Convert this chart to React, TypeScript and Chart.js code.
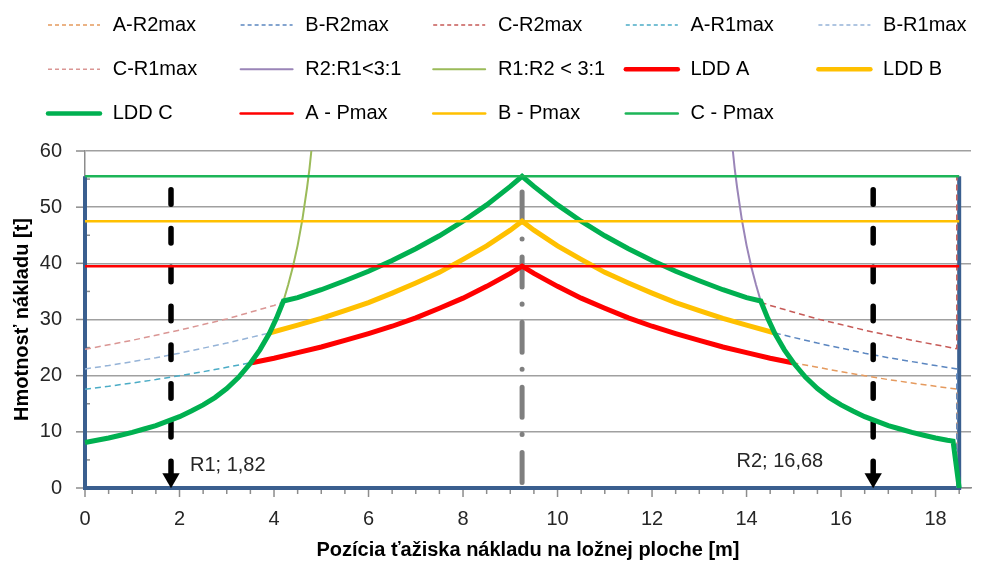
import React, { useEffect, useRef } from 'react';
import { Chart, registerables } from 'chart.js';

Chart.register(...registerables);

const FONT = '"Liberation Sans", Arial, sans-serif';

// ---------- axis / text ----------
const xTitle = 'Pozícia ťažiska nákladu na ložnej ploche [m]';
const yTitle = 'Hmotnosť nákladu [t]';
const xMajorTicks = [0, 2, 4, 6, 8, 10, 12, 14, 16, 18];
const yMajorTicks = [0, 10, 20, 30, 40, 50, 60];
const annoText = ['R1; 1,82', 'R2; 16,68'];

// ---------- series data ----------
// dashed R2max curves (right side)
const aR2X = [14.97, 15.5, 16, 16.5, 17, 17.5, 18, 18.45, 18.45];
const aR2Y = [22.3, 21.5, 20.7, 20.0, 19.3, 18.7, 18.1, 17.6, 0];
const bR2X = [14.6, 15, 15.5, 16, 16.5, 17, 17.5, 18, 18.45, 18.45];
const bR2Y = [27.6, 26.8, 25.8, 24.9, 24.0, 23.2, 22.5, 21.8, 21.2, 0];
const cR2X = [14.3, 14.5, 15, 15.5, 16, 16.5, 17, 17.5, 18, 18.45, 18.45];
const cR2Y = [33.1, 32.5, 31.3, 30.1, 29.1, 28.1, 27.2, 26.3, 25.5, 24.8, 55.5];

// dashed R1max curves (left side)
const aR1X = [0, 0.5, 1, 1.5, 2, 2.5, 3, 3.5];
const aR1Y = [17.6, 18.1, 18.7, 19.3, 20.0, 20.7, 21.5, 22.3];
const bR1X = [0, 0.5, 1, 1.5, 2, 2.5, 3, 3.5, 3.9];
const bR1Y = [21.2, 21.8, 22.5, 23.2, 24.0, 24.9, 25.8, 26.8, 27.6];
const cR1X = [0, 0.5, 1, 1.5, 2, 2.5, 3, 3.5, 4, 4.2];
const cR1Y = [24.7, 25.5, 26.3, 27.2, 28.1, 29.1, 30.1, 31.3, 32.5, 33.1];

// axle load ratio limits
const r2r1X = [18.37, 18.25, 18, 17.75, 17.5, 17.25, 17, 16.75, 16.5, 16.25, 16, 15.75, 15.5, 15.25, 15, 14.8, 14.6, 14.45, 14.3, 14.2, 14.1, 14.0, 13.9, 13.8, 13.75, 13.71];
const r2r1Y = [8.35, 8.5, 8.9, 9.4, 9.9, 10.5, 11.1, 11.9, 12.7, 13.7, 14.8, 16.1, 17.7, 19.7, 22.2, 24.6, 27.5, 30.2, 33.3, 36.2, 39.4, 43.2, 47.8, 53.5, 56.8, 60];
const r1r2X = [0, 0.25, 0.5, 0.75, 1, 1.25, 1.5, 1.75, 2, 2.25, 2.5, 2.75, 3, 3.25, 3.5, 3.7, 3.9, 4.05, 4.2, 4.3, 4.4, 4.5, 4.6, 4.7, 4.75, 4.79];
const r1r2Y = [8.1, 8.5, 8.9, 9.4, 9.9, 10.5, 11.1, 11.9, 12.7, 13.7, 14.8, 16.1, 17.7, 19.7, 22.2, 24.6, 27.5, 30.2, 33.3, 36.2, 39.4, 43.2, 47.8, 53.5, 56.8, 60];

// load distribution diagrams
const ldaX = [3.53, 4, 4.5, 5, 5.5, 6, 6.5, 7, 7.5, 8, 8.5, 9, 9.25, 9.5, 10, 10.5, 11, 11.5, 12, 12.5, 13, 13.5, 14, 14.5, 14.97];
const ldaY = [22.3, 23.1, 24.1, 25.1, 26.3, 27.5, 28.8, 30.3, 32.0, 33.8, 35.9, 38.2, 39.5, 38.2, 35.9, 33.8, 32.0, 30.3, 28.8, 27.5, 26.3, 25.1, 24.1, 23.1, 22.3];
const ldbX = [3.9, 4.5, 5, 5.5, 6, 6.5, 7, 7.5, 8, 8.5, 9, 9.25, 9.5, 10, 10.5, 11, 11.5, 12, 12.5, 13, 13.5, 14, 14.6];
const ldbY = [27.6, 29.0, 30.2, 31.6, 33.0, 34.7, 36.5, 38.4, 40.7, 43.1, 45.9, 47.5, 45.9, 43.1, 40.7, 38.4, 36.5, 34.7, 33.0, 31.6, 30.2, 29.0, 27.6];
const ldcX = [0, 0.25, 0.5, 0.75, 1, 1.25, 1.5, 1.75, 2, 2.25, 2.5, 2.75, 3, 3.25, 3.5, 3.7, 3.9, 4.05, 4.2, 4.5, 5, 5.5, 6, 6.5, 7, 7.5, 8, 8.5, 9, 9.25, 9.5, 10, 10.5, 11, 11.5, 12, 12.5, 13, 13.5, 14, 14.3, 14.45, 14.6, 14.8, 15, 15.25, 15.5, 15.75, 16, 16.25, 16.5, 16.75, 17, 17.25, 17.5, 17.75, 18, 18.25, 18.37, 18.5];
const ldcY = [8.1, 8.5, 8.9, 9.4, 9.9, 10.5, 11.1, 11.9, 12.7, 13.7, 14.8, 16.1, 17.7, 19.7, 22.2, 24.6, 27.5, 30.2, 33.3, 33.9, 35.3, 36.9, 38.6, 40.5, 42.6, 44.9, 47.5, 50.4, 53.7, 55.5, 53.7, 50.4, 47.5, 44.9, 42.6, 40.5, 38.6, 36.9, 35.3, 33.9, 33.3, 30.2, 27.5, 24.6, 22.2, 19.7, 17.7, 16.1, 14.8, 13.7, 12.7, 11.9, 11.1, 10.5, 9.9, 9.4, 8.9, 8.5, 8.35, 0];

// max payload lines
const pmaxX = [0, 18.5];
const pmaxA = [39.5, 39.5];
const pmaxB = [47.5, 47.5];
const pmaxC = [55.5, 55.5];

// loading surface outline
const frameX = [0, 0, 18.5, 18.5];
const frameY = [55.5, 0, 0, 55.5];

// centre of the loading surface
const centreX = [9.25, 9.25];
const centreY = [52.7, 0];

// axle positions (arrows)
const axleX = [1.82, 16.68];
const arrowTopY = [53.1, 53.1];
const arrowEndY = [2.5, 2.5];
const arrowHeadY = [1.75, 1.75];

const pts = (xs: number[], ys: number[]) => xs.map((x, i) => ({ x, y: ys[i] }));

const legendNames = [
  'A-R2max', 'B-R2max', 'C-R2max', 'A-R1max', 'B-R1max',
  'C-R1max', 'R2:R1<3:1', 'R1:R2 < 3:1', 'LDD A', 'LDD B',
  'LDD C', 'A - Pmax', 'B - Pmax', 'C - Pmax',
];

export default function App() {
  const ref = useRef<HTMLCanvasElement>(null);

  useEffect(() => {
    document.body.style.margin = '0';
    const base = { showLine: true, pointRadius: 0, pointHoverRadius: 0, fill: false, tension: 0, clip: false as any };
    const dashed = (label: string, color: string, xs: number[], ys: number[]) => ({
      ...base, label, data: pts(xs, ys), borderColor: color, borderWidth: 1.5, borderDash: [6, 4], legendItem: true,
    });
    const solid = (label: string, color: string, w: number, xs: number[], ys: number[]) => ({
      ...base, label, data: pts(xs, ys), borderColor: color, borderWidth: w, legendItem: true,
    });

    const legendSeries = [
      dashed(legendNames[0], '#E59A5E', aR2X, aR2Y),
      dashed(legendNames[1], '#5B86C0', bR2X, bR2Y),
      dashed(legendNames[2], '#C65A57', cR2X, cR2Y),
      dashed(legendNames[3], '#4BACC6', aR1X, aR1Y),
      dashed(legendNames[4], '#95B3D7', bR1X, bR1Y),
      dashed(legendNames[5], '#DA9694', cR1X, cR1Y),
      solid(legendNames[6], '#9A85B8', 2, r2r1X, r2r1Y),
      solid(legendNames[7], '#9BBB59', 2, r1r2X, r1r2Y),
      solid(legendNames[8], '#FF0000', 5, ldaX, ldaY),
      solid(legendNames[9], '#FFC000', 5, ldbX, ldbY),
      solid(legendNames[10], '#00B050', 5, ldcX, ldcY),
      solid(legendNames[11], '#FF0000', 2.5, pmaxX, pmaxA),
      solid(legendNames[12], '#FFC000', 2.5, pmaxX, pmaxB),
      solid(legendNames[13], '#1DB558', 2.5, pmaxX, pmaxC),
    ];

    const helpers = {
      frame: { ...base, label: 'frame', data: pts(frameX, frameY), borderColor: '#3A5F8F', borderWidth: 4 },
      centre: {
        ...base, label: 'centre', data: pts(centreX, centreY), borderColor: '#7F7F7F', borderWidth: 5,
        borderDash: [30, 17, 0.1, 18], borderCapStyle: 'round',
      },
      arrow1: {
        ...base, label: 'arrow1', data: pts([axleX[0], axleX[0]], [arrowTopY[0], arrowEndY[0]]),
        borderColor: '#000', borderWidth: 5.5, borderDash: [14.5, 24.3], borderCapStyle: 'round',
      },
      arrow2: {
        ...base, label: 'arrow2', data: pts([axleX[1], axleX[1]], [arrowTopY[1], arrowEndY[1]]),
        borderColor: '#000', borderWidth: 5.5, borderDash: [14.5, 24.3], borderCapStyle: 'round',
      },
      heads: {
        label: 'heads', data: pts(axleX, arrowHeadY), showLine: false, pointStyle: 'triangle',
        pointRadius: 10, pointHoverRadius: 10, rotation: 180, pointRotation: 180,
        backgroundColor: '#000', borderColor: '#000', pointBackgroundColor: '#000', pointBorderWidth: 0, borderWidth: 0, clip: false,
      },
    };

    const ordered: any[] = [
      helpers.frame,
      ...legendSeries.slice(0, 6),
      helpers.centre,
      helpers.arrow1,
      helpers.arrow2,
      helpers.heads,
      ...legendSeries.slice(6),
    ];
    ordered.forEach((d, i) => { d.order = -i; });

    const ticksPlugin = {
      id: 'tickMarks',
      beforeDatasetsDraw(chart: any) {
        const { ctx, scales } = chart;
        const x = scales.x, y = scales.y;
        ctx.save();
        ctx.strokeStyle = '#8c8c8c';
        ctx.lineWidth = 1.5;
        const yb = y.getPixelForValue(0);
        for (let v = 0; v <= 18.5 + 1e-9; v += 0.5) {
          const px = x.getPixelForValue(v);
          const major = xMajorTicks.includes(v);
          ctx.beginPath();
          ctx.moveTo(px, yb);
          ctx.lineTo(px, yb + (major ? 9 : 6));
          ctx.stroke();
        }
        const xl = x.getPixelForValue(0);
        for (let v = 0; v <= 60 + 1e-9; v += 5) {
          const py = y.getPixelForValue(v);
          const major = yMajorTicks.includes(v);
          ctx.beginPath();
          if (major) { ctx.moveTo(xl - 9, py); ctx.lineTo(xl, py); }
          else { ctx.moveTo(xl, py); ctx.lineTo(xl + 5, py); }
          ctx.stroke();
        }
        ctx.restore();
      },
    };

    const labelsPlugin = {
      id: 'axleLabels',
      afterDatasetsDraw(chart: any) {
        const { ctx, scales } = chart;
        const x = scales.x, y = scales.y;
        const yb = y.getPixelForValue(0);
        ctx.save();
        ctx.font = `20px ${FONT}`;
        ctx.fillStyle = '#262626';
        ctx.textBaseline = 'middle';
        ctx.textAlign = 'left';
        ctx.fillText(annoText[0], x.getPixelForValue(axleX[0]) + 19, yb - 23);
        ctx.textAlign = 'right';
        ctx.fillText(annoText[1], x.getPixelForValue(axleX[1]) - 50, yb - 27);
        ctx.restore();
      },
    };

    const legendPlugin = {
      id: 'gridLegend',
      afterDraw(chart: any) {
        const { ctx } = chart;
        const items = chart.data.datasets.filter((d: any) => d.legendItem);
        const sorted = legendNames.map((n) => items.find((d: any) => d.label === n));
        ctx.save();
        ctx.font = `20px ${FONT}`;
        ctx.textBaseline = 'middle';
        ctx.textAlign = 'left';
        sorted.forEach((d: any, i: number) => {
          const col = i % 5, row = Math.floor(i / 5);
          const x0 = 48 + col * 192.6;
          const yy = 25 + row * 44.3;
          ctx.beginPath();
          ctx.strokeStyle = d.borderColor;
          ctx.lineWidth = d.borderDash ? 1.5 : Math.min(d.borderWidth, 4.5);
          ctx.setLineDash(d.borderDash ? [4, 3] : []);
          ctx.lineCap = d.borderDash ? 'butt' : 'round';
          ctx.moveTo(x0, yy);
          ctx.lineTo(x0 + 52, yy);
          ctx.stroke();
          ctx.setLineDash([]);
          ctx.fillStyle = '#000';
          ctx.fillText(d.label, x0 + 64.7, yy);
        });
        ctx.restore();
      },
    };

    const chart = new Chart(ref.current as HTMLCanvasElement, {
      type: 'scatter',
      data: { datasets: ordered },
      options: {
        animation: false,
        responsive: false,
        maintainAspectRatio: false,
        events: [],
        layout: { padding: { top: 151, right: 0, bottom: 0, left: 0 } },
        plugins: { legend: { display: false }, tooltip: { enabled: false } },
        scales: {
          x: {
            type: 'linear', min: 0, max: 18.75,
            afterBuildTicks: (s: any) => { s.ticks = xMajorTicks.map((v) => ({ value: v })); },
            afterFit: (s: any) => { s.height = 75; },
            grid: { display: true, drawOnChartArea: false, drawTicks: false },
            border: { display: true, color: '#8c8c8c', width: 1.5 },
            ticks: { padding: 19, color: '#262626', font: { family: FONT, size: 20 }, maxRotation: 0, callback: (v: any) => String(v) },
            title: { display: true, text: xTitle, color: '#000', font: { family: FONT, size: 20, weight: 'bold' }, padding: { top: 0, bottom: 1 } },
          },
          y: {
            type: 'linear', min: 0, max: 60,
            afterBuildTicks: (s: any) => { s.ticks = yMajorTicks.map((v) => ({ value: v })); },
            afterFit: (s: any) => { s.width = 85; },
            grid: { color: '#a0a0a0', lineWidth: 1.5, drawTicks: false },
            border: { display: true, color: '#8c8c8c', width: 1.5 },
            ticks: { padding: 23, color: '#262626', font: { family: FONT, size: 20 }, callback: (v: any) => String(v) },
            title: { display: true, text: yTitle, color: '#000', font: { family: FONT, size: 20, weight: 'bold' }, padding: { top: 10, bottom: 0 } },
          },
        },
      } as any,
      plugins: [ticksPlugin, labelsPlugin, legendPlugin],
    });
    return () => chart.destroy();
  }, []);

  return (
    <div style={{ position: 'absolute', left: 0, top: 0, width: 981, height: 563, background: '#fff' }}>
      <canvas ref={ref} width={981} height={563} style={{ display: 'block', width: 981, height: 563 }} />
    </div>
  );
}
